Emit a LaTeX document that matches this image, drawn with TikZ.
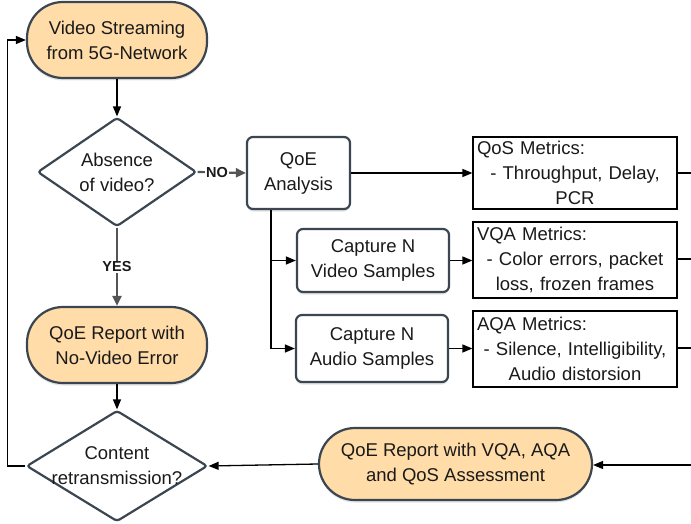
\documentclass[tikz,border=0pt]{standalone}
\usepackage{fontspec}
\setmainfont{Liberation Sans}
\usetikzlibrary{arrows.meta,shapes.geometric,shadows}
\definecolor{orangefill}{HTML}{FFDCA8}
\definecolor{edgegray}{HTML}{3B4651}
\definecolor{arrgray}{HTML}{555555}
\definecolor{txt}{HTML}{1A1A1A}
\begin{document}
\begin{tikzpicture}[x=1pt,y=-1pt,
  font=\fontsize{18.5}{25}\selectfont,
  every node/.style={text=txt},
  shadowed/.style={drop shadow={shadow xshift=0pt,shadow yshift=-2.5pt,opacity=0.22}},
  base/.style={draw=edgegray, line width=2.2pt, align=center, inner sep=0pt},
  term/.style={base, fill=orangefill, rounded corners=36pt, shadowed},
  proc/.style={base, fill=white, rounded corners=6pt, shadowed},
  decision/.style={base, diamond, fill=white, rounded corners=3pt},
  metric/.style={draw=black, line width=1.2pt, fill=white, align=center, text width=196pt, inner sep=3pt, minimum width=204pt},
  arr/.style={line width=1.3pt, draw=black, -{Triangle[length=10pt,width=8pt]}},
  plain/.style={line width=1.3pt, draw=black},
  grayarr/.style={line width=2.2pt, draw=arrgray, -{Triangle[length=10pt,width=9pt]}},
  lbl/.style={font=\fontsize{14.5}{14.5}\selectfont\bfseries, fill=white, inner sep=1pt}
]
\useasboundingbox (0,0) rectangle (691,524);

% nodes
\node[term, minimum width=180pt, minimum height=76pt] (start) at (117,40) {Video Streaming\\from 5G-Network};
\node[decision, minimum width=159pt, minimum height=109pt,
  label={[align=center]center:Absence\\of video?}] (dec1) at (117,172) {};
\node[proc, minimum width=103pt, minimum height=72pt] (qoe) at (298.5,173) {QoE\\Analysis};
\node[proc, minimum width=152pt, minimum height=63pt] (capv) at (373,260.5) {Capture N\\Video Samples};
\node[proc, minimum width=152pt, minimum height=67pt] (capa) at (372,348.5) {Capture N\\Audio Samples};
\node[metric, minimum height=72pt] (qos) at (575,173) {QoS Metrics:\hfill\mbox{}\\- Throughput, Delay,\\PCR};
\node[metric, minimum height=76pt] (vqa) at (575,260) {VQA Metrics:\hfill\mbox{}\\- Color errors, packet\\loss, frozen frames};
\node[metric, minimum height=76pt] (aqa) at (575,349) {AQA Metrics:\hfill\mbox{}\\- Silence, Intelligibility,\\Audio distorsion};
\node[term, minimum width=180pt, minimum height=76pt] (rep1) at (117,345) {QoE Report with\\No-Video Error};
\node[decision, minimum width=181pt, minimum height=111pt,
  label={[align=center]center:Content\\retransmission?}] (dec2) at (117,466) {};
\node[term, minimum width=273pt, minimum height=72pt] (rep2) at (455.5,464) {QoE Report with VQA, AQA\\and QoS Assessment};

% free ends at the right border
\coordinate (rq) at (691,173);
\coordinate (rv) at (691,259);
\coordinate (ra) at (691,348);
\coordinate (rin) at (691,465);

% connectors
\draw[arr] (start) -- (dec1);
\draw[grayarr] (dec1.east) -- node[lbl, pos=0.4]{NO} (qoe.west);
\draw[grayarr] (dec1.south) -- node[lbl]{YES} (rep1.north);
\draw[arr] (qoe.east) -- (qoe.east -| qos.west);
\draw[arr] ([xshift=25pt]qoe.south west) |- (capv.west);
\draw[arr] ([xshift=25pt]qoe.south west) |- (capa.west);
\draw[arr] (capv.east) -- (capv.east -| vqa.west);
\draw[arr] (capa.east) -- (capa.east -| aqa.west);
\draw[plain] (qos.east |- rq) -- (rq);
\draw[plain] (vqa.east |- rv) -- (rv);
\draw[plain] (aqa.east |- ra) -- (ra);
\draw[arr] (rin) -- (rin -| rep2.east);
\draw[arr] (rep2.west) -- (dec2.east);
\draw[arr] (rep1) -- (dec2);
\draw[arr] (dec2.west) -- ++(-18,0) |- (start.west);
\end{tikzpicture}
\end{document}
